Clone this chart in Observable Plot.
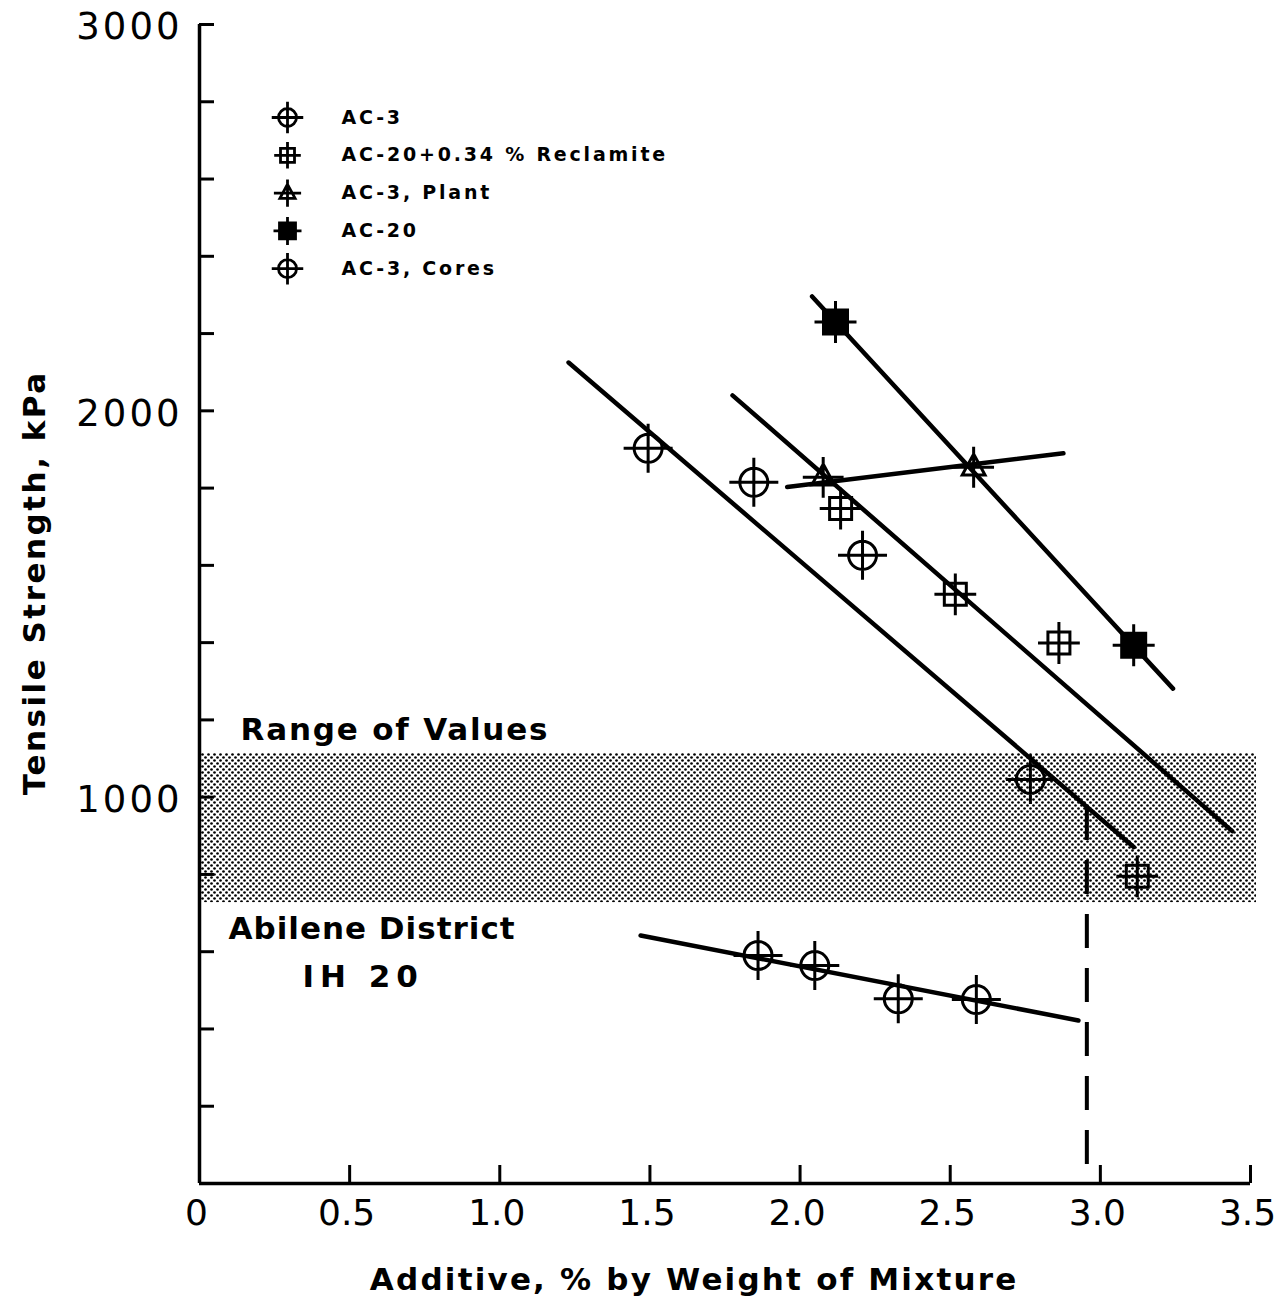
<!DOCTYPE html>
<html>
<head>
<meta charset="utf-8">
<script src="https://cdn.jsdelivr.net/npm/d3@7"></script>
<script src="https://cdn.jsdelivr.net/npm/@observablehq/plot@0.6"></script>
<style>
  body { margin: 0; background: #fff; }
  svg { display: block; }
</style>
</head>
<body>
<div id="chart"></div>
<script>
// ---------------- data ----------------
const xTicks = [0, 0.5, 1.0, 1.5, 2.0, 2.5, 3.0, 3.5];
const xTickLabels = ["0", "0.5", "1.0", "1.5", "2.0", "2.5", "3.0", "3.5"];
const yTicks = [200, 400, 600, 800, 1000, 1200, 1400, 1600, 1800, 2000, 2200, 2400, 2600, 2800, 3000];
const yLabelTicks = [1000, 2000, 3000];

// [additive %, tensile strength kPa]
const ac3Lab    = [[1.494, 1903], [1.846, 1815], [2.208, 1626], [2.767, 1046]];
const reclamite = [[2.135, 1747], [2.517, 1525], [2.862, 1399], [3.123, 795]];
const ac3Plant  = [[2.077, 1828], [2.578, 1854]];
const ac20      = [[2.118, 2230], [3.111, 1393]];
const ac3Cores  = [[1.860, 590], [2.049, 564], [2.327, 478], [2.587, 476]];

// drawn trend lines: [x1, y1, x2, y2]
const lineAc3Lab    = [1.229, 2125, 3.111, 871];
const lineReclamite = [1.775, 2040, 3.439, 912];
const lineAc20      = [2.040, 2296, 3.242, 1281];
const lineAc3Plant  = [1.957, 1803, 2.877, 1890];
const lineAc3Cores  = [1.469, 642, 2.927, 422];
const trendLines = [lineAc3Lab, lineReclamite, lineAc20, lineAc3Plant, lineAc3Cores];

// dashed design-value line: additive %, from strength down to 0
const designLine = [2.955, 976, 0];

// shaded "range of values" band: [x from, x to, low kPa, high kPa]
const rangeBand = [0, 3.52, 727, 1113];

const legendLabels = ["AC-3", "AC-20+0.34 % Reclamite", "AC-3, Plant", "AC-20", "AC-3, Cores"];
const annotations = ["Range of Values", "Abilene District", "IH 20"];
const yTitle = "Tensile Strength, kPa";
const xTitle = "Additive, % by Weight of Mixture";

// ---------------- custom marker symbols ----------------
function crossArms(ctx, a) {
  ctx.moveTo(-a, 0); ctx.lineTo(a, 0);
  ctx.moveTo(0, -a); ctx.lineTo(0, a);
}
const circleCross = {draw(ctx, size) {
  const r = Math.sqrt(size / Math.PI);
  ctx.moveTo(r, 0); ctx.arc(0, 0, r, 0, 2 * Math.PI); ctx.closePath();
  crossArms(ctx, r * 1.75);
}};
const squareCross = {draw(ctx, size) {
  const r = Math.sqrt(size / Math.PI);
  ctx.rect(-r, -r, 2 * r, 2 * r);
  crossArms(ctx, r * 1.9);
}};
const triangleCross = {draw(ctx, size) {
  const r = Math.sqrt(size / Math.PI);
  ctx.moveTo(0, -r * 1.1); ctx.lineTo(r * 0.95, r * 0.65); ctx.lineTo(-r * 0.95, r * 0.65); ctx.closePath();
  crossArms(ctx, r * 1.7);
}};
const filledSquareCross = {draw(ctx, size) {
  const r = Math.sqrt(size / Math.PI);
  ctx.rect(-r, -r, 2 * r, 2 * r);
  crossArms(ctx, r * 1.75);
}};

const seriesStyle = [
  {data: ac3Lab,    symbol: circleCross,       r: 14, lr: 9, fill: "none"},
  {data: reclamite, symbol: squareCross,       r: 11, lr: 7, fill: "none"},
  {data: ac3Plant,  symbol: triangleCross,     r: 12, lr: 8, fill: "none"},
  {data: ac20,      symbol: filledSquareCross, r: 12, lr: 8, fill: "black"},
  {data: ac3Cores,  symbol: circleCross,       r: 14, lr: 9, fill: "none"}
];

const font = "'DejaVu Sans', sans-serif";

const marks = [];
marks.push(Plot.rect([rangeBand], {
  x1: d => d[0], x2: d => d[1], y1: d => d[2], y2: d => d[3],
  fill: "url(#stipple)"
}));
marks.push(Plot.link(trendLines, {
  x1: d => d[0], y1: d => d[1], x2: d => d[2], y2: d => d[3],
  stroke: "black", strokeWidth: 4.5, strokeLinecap: "round"
}));
marks.push(Plot.ruleX([designLine], {
  x: d => d[0], y1: d => d[1], y2: d => d[2],
  stroke: "black", strokeWidth: 4, strokeDasharray: "34,20"
}));
for (const s of seriesStyle) {
  marks.push(Plot.dot(s.data, {
    x: d => d[0], y: d => d[1], r: s.r, symbol: s.symbol,
    fill: s.fill, stroke: "black", strokeWidth: 3
  }));
}
seriesStyle.forEach((s, i) => {
  const dy = 93 + i * 37.8;
  marks.push(Plot.dot([legendLabels[i]], {
    frameAnchor: "top-left", dx: 88, dy, r: s.lr, symbol: s.symbol,
    fill: s.fill, stroke: "black", strokeWidth: 2.8
  }));
  marks.push(Plot.text([legendLabels[i]], {
    frameAnchor: "top-left", dx: 142, dy, text: d => d, textAnchor: "start", lineAnchor: "middle",
    fontSize: 19, fontWeight: "bold", fill: "black"
  }));
});
marks.push(Plot.text([annotations[0]], {
  frameAnchor: "left", y: () => rangeBand[3], dx: 41, dy: -14, text: d => d,
  textAnchor: "start", lineAnchor: "bottom", fontSize: 31, fontWeight: "bold", fill: "black"
}));
marks.push(Plot.text([annotations[1]], {
  frameAnchor: "left", y: () => rangeBand[2], dx: 29, dy: 14, text: d => d,
  textAnchor: "start", lineAnchor: "top", fontSize: 31, fontWeight: "bold", fill: "black"
}));
marks.push(Plot.text([annotations[2]], {
  frameAnchor: "left", y: () => rangeBand[2], dx: 103, dy: 62, text: d => d,
  textAnchor: "start", lineAnchor: "top", fontSize: 31, fontWeight: "bold", fill: "black"
}));
// y axis: inward ticks every 200, labels at thousands
marks.push(Plot.axisY({
  ticks: yTicks, tickSize: -15, strokeWidth: 3, tickFormat: () => ""
}));
marks.push(Plot.axisY({
  ticks: yLabelTicks, tickSize: 0, tickPadding: 20, tickFormat: d => String(d), dy: 3,
  fontSize: 37, fill: "black", stroke: "black", strokeWidth: 0.6
}));
// x axis: inward ticks, labels below
marks.push(Plot.axisX({
  ticks: xTicks, tickSize: -18, strokeWidth: 3, tickFormat: () => ""
}));
marks.push(Plot.axisX({
  ticks: xTicks, tickSize: 0, tickPadding: 16, dx: -3,
  tickFormat: d => xTickLabels[xTicks.indexOf(d)],
  fontSize: 36, fill: "black", stroke: "black", strokeWidth: 0.6
}));
marks.push(Plot.ruleX([0], {stroke: "black", strokeWidth: 3.5}));
marks.push(Plot.ruleY([0], {stroke: "black", strokeWidth: 3.5}));
marks.push(Plot.text([yTitle], {
  frameAnchor: "left", dx: -164, dy: -20, rotate: -90, text: d => d, textAnchor: "middle",
  fontSize: 31, fontWeight: "bold", fill: "black"
}));
marks.push(Plot.text([xTitle], {
  frameAnchor: "bottom", dx: -32, dy: 97, text: d => d, textAnchor: "middle", lineAnchor: "middle",
  fontSize: 31, fontWeight: "bold", fill: "black"
}));

const svg = Plot.plot({
  width: 1275,
  height: 1300,
  marginLeft: 199,
  marginRight: 25,
  marginTop: 24,
  marginBottom: 117,
  x: {domain: [0, 3.5], axis: null},
  y: {domain: [0, 3000], axis: null},
  style: {fontFamily: font, background: "white", color: "black", overflow: "visible"},
  marks
});

const ns = "http://www.w3.org/2000/svg";
const defs = document.createElementNS(ns, "defs");
defs.innerHTML = '<pattern id="stipple" width="6" height="6" patternUnits="userSpaceOnUse">' +
  '<circle cx="1.5" cy="1.5" r="1.35" fill="#000"/><circle cx="4.5" cy="4.5" r="1.35" fill="#000"/></pattern>';
svg.insertBefore(defs, svg.firstChild);
document.getElementById("chart").appendChild(svg);

// widen the lettering (hand-lettered look) with SVG-native textLength spacing
const extraSpacing = new Map([
  ["3000", 3], ["2000", 3], ["1000", 3],
  [annotations[0], 1.8], [annotations[1], 1], [annotations[2], 6],
  [yTitle, 2.5], [xTitle, 2.2]
]);
legendLabels.forEach(l => extraSpacing.set(l, 2.8));
svg.querySelectorAll("text").forEach(t => {
  const sp = extraSpacing.get(t.textContent);
  if (sp === undefined) return;
  const n = t.textContent.length;
  const w = t.getComputedTextLength();
  t.setAttribute("textLength", (w + (n - 1) * sp).toFixed(1));
  t.setAttribute("lengthAdjust", "spacing");
});
</script>
</body>
</html>
